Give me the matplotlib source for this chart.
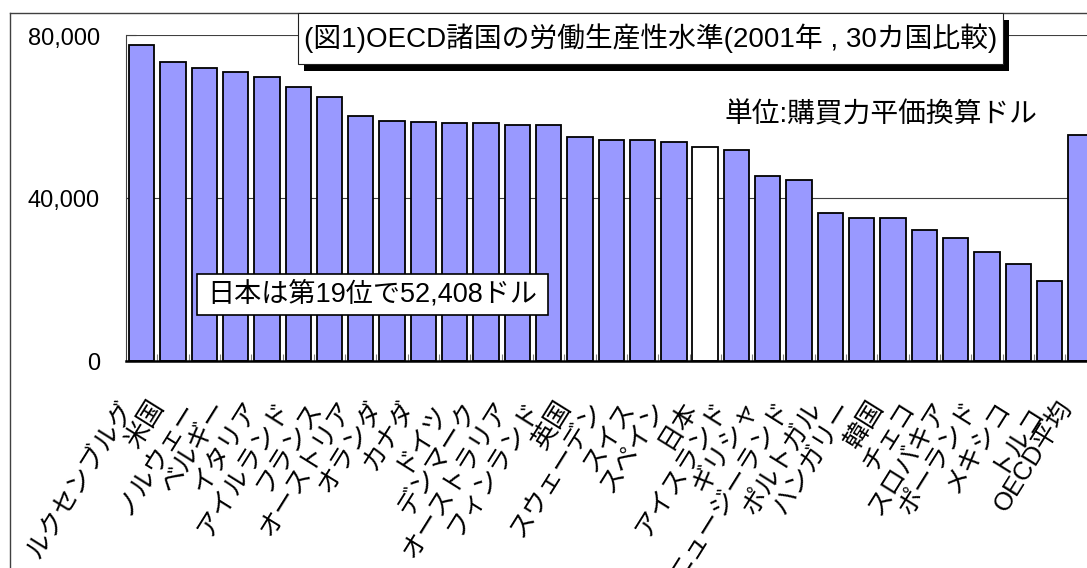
import matplotlib
matplotlib.use("Agg")
import matplotlib.pyplot as plt
from matplotlib.patches import Rectangle
from matplotlib.lines import Line2D

plt.rcParams['font.family'] = ['Liberation Sans', 'Noto Sans CJK JP', 'DejaVu Sans']

# Labour productivity 2001 (PPP-converted US dollars), ranked
countries = [
    "ルクセンブルグ", "米国", "ノルウェー", "ベルギー", "イタリア", "アイルランド",
    "フランス", "オーストリア", "オランダ", "カナダ", "ドイツ", "デンマーク",
    "オーストラリア", "フィンランド", "英国", "スウェーデン", "スイス", "スペイン",
    "日本", "アイスランド", "ギリシャ", "ニュージーランド", "ポルトガル", "ハンガリー",
    "韓国", "チェコ", "スロバキア", "ポーランド", "メキシコ", "トルコ", "OECD平均",
]
productivity = [
    77500, 73300, 72000, 70900, 69700, 67200,
    64900, 60100, 59000, 58600, 58500, 58500,
    58000, 58000, 54900, 54300, 54300, 53700,
    52408, 51900, 45300, 44500, 36300, 35200,
    35200, 32200, 30300, 26800, 23700, 19700, 55500,
]
highlight = "日本"
yticks = [0, 40000, 80000]
ytick_labels = ["0", "40,000", "80,000"]

title = "(図1)OECD諸国の労働生産性水準(2001年 , 30カ国比較)"
unit_note = "単位:購買力平価換算ドル"
japan_note = "日本は第19位で52,408ドル"

W, H = 1087, 568
fig = plt.figure(figsize=(W / 100, H / 100), dpi=100)
fig.patch.set_facecolor("white")


def fx(px):
    return px / W


def fy(py):
    return 1 - py / H


# plot area (right side runs past the image edge)
left_px, right_px, top_px, bottom_px = 126, 1096.5, 35, 361
ax = fig.add_axes([fx(left_px), fy(bottom_px),
                   (right_px - left_px) / W, (bottom_px - top_px) / H])

x = list(range(len(countries)))
colors = ["white" if c == highlight else "#9999FF" for c in countries]
ax.bar(x, productivity, width=0.81, color=colors, edgecolor="black",
       linewidth=1.3, zorder=3)

ax.set_xlim(-0.5, len(countries) - 0.5)
ax.set_ylim(0, 80000)

# horizontal gridlines
for v in yticks[1:]:
    ax.axhline(v, color="#404040", linewidth=0.8, zorder=1)

for s in ["top", "right"]:
    ax.spines[s].set_visible(False)
ax.spines["left"].set_color("#404040")
ax.spines["left"].set_linewidth(0.8)
ax.spines["bottom"].set_linewidth(1.8)
ax.spines["bottom"].set_zorder(4)

ax.set_yticks(yticks)
ax.set_yticklabels([])
ax.tick_params(axis="y", direction="in", length=7, width=0.8, color="#404040")
ax.set_xticks([i + 0.5 for i in x[:-1]])
ax.set_xticklabels([])
ax.tick_params(axis="x", direction="in", length=5, width=0.8, color="#808080")

for v, lab in zip(yticks, ytick_labels):
    ax.annotate(lab, xy=(0, v), xycoords=("axes fraction", "data"),
                xytext=(-26, -3.5), textcoords="offset pixels",
                ha="right", va="center", fontsize=17, annotation_clip=False)

for i, name in enumerate(countries):
    ax.annotate(name, xy=(i, 0), xycoords="data",
                xytext=(-14, -42), textcoords="offset pixels",
                rotation=58, rotation_mode="anchor", ha="right", va="center",
                fontsize=18.5, annotation_clip=False)

# outer chart frame
fig.add_artist(Line2D([fx(9.5), fx(9.5)], [fy(13), 0], color="#404040",
                      linewidth=1.0, transform=fig.transFigure))
fig.add_artist(Line2D([fx(9.5), 1], [fy(13), fy(13)], color="#404040",
                      linewidth=1.0, transform=fig.transFigure))

# title box with drop shadow
bx0, by0, bx1, by1 = 298, 13, 1003, 64
fig.add_artist(Rectangle((fx(bx0 + 6), fy(by1 + 7)), (bx1 - bx0) / W,
                         (by1 - by0) / H, transform=fig.transFigure,
                         facecolor="black", edgecolor="none", zorder=5))
fig.add_artist(Rectangle((fx(bx0), fy(by1)), (bx1 - bx0) / W, (by1 - by0) / H,
                         transform=fig.transFigure, facecolor="white",
                         edgecolor="#202020", linewidth=0.8, zorder=6))
fig.text(fx((bx0 + bx1) / 2), fy((by0 + by1) / 2), title, ha="center",
         va="center", fontsize=20, zorder=7)

fig.text(fx(881), fy(115), unit_note, ha="center", va="center", fontsize=20,
         zorder=7)

# callout for Japan
cx0, cy0, cx1, cy1 = 197, 274, 548, 315
fig.add_artist(Rectangle((fx(cx0), fy(cy1)), (cx1 - cx0) / W, (cy1 - cy0) / H,
                         transform=fig.transFigure, facecolor="white",
                         edgecolor="black", linewidth=1.2, zorder=6))
fig.text(fx((cx0 + cx1) / 2), fy((cy0 + cy1) / 2), japan_note, ha="center",
         va="center", fontsize=19.5, zorder=7)

fig.savefig("out.png", dpi=100)
